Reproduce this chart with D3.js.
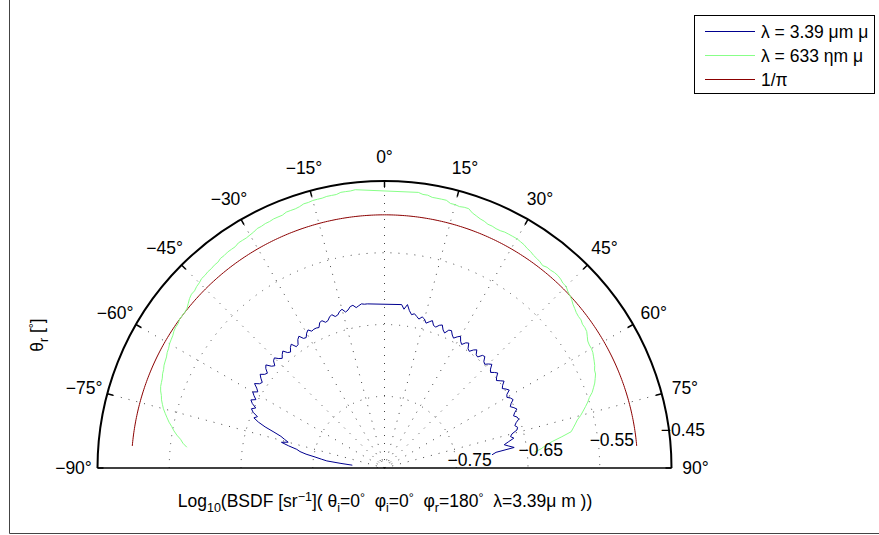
<!DOCTYPE html>
<html><head><meta charset="utf-8">
<script src="https://cdn.jsdelivr.net/npm/d3@7"></script>
<style>
html,body{margin:0;padding:0;background:#fff;}
svg text{font-family:"Liberation Sans",Arial,Helvetica,sans-serif;fill:#000;}
</style></head>
<body>
<svg id="chart" width="879" height="535"></svg>
<script>
// ---- data ----
const thetaDeg = d3.range(-85, 86, 1); // scattering angles θr (deg)

const blueLog = [
-0.805,-0.789,-0.769,-0.761,-0.752,-0.739,-0.730,-0.725,-0.713,-0.702,
-0.711,-0.705,-0.699,-0.688,-0.674,-0.663,-0.655,-0.659,-0.651,-0.647,
-0.652,-0.645,-0.641,-0.647,-0.642,-0.638,-0.644,-0.640,-0.634,-0.640,
-0.642,-0.637,-0.633,-0.638,-0.640,-0.634,-0.631,-0.638,-0.641,-0.635,
-0.633,-0.638,-0.641,-0.637,-0.634,-0.640,-0.642,-0.637,-0.634,-0.641,
-0.640,-0.634,-0.631,-0.637,-0.638,-0.633,-0.630,-0.634,-0.633,-0.633,
-0.634,-0.628,-0.627,-0.631,-0.630,-0.626,-0.624,-0.628,-0.627,-0.623,
-0.621,-0.626,-0.624,-0.620,-0.619,-0.623,-0.621,-0.619,-0.620,-0.620,
null,null,null,null,null,null,null,null,null,null,null,
-0.621,-0.627,-0.620,-0.628,-0.633,-0.631,-0.634,-0.637,-0.633,-0.635,
-0.640,-0.637,-0.634,-0.640,-0.641,-0.637,-0.635,-0.641,-0.644,-0.638,
-0.637,-0.642,-0.645,-0.641,-0.638,-0.644,-0.647,-0.642,-0.640,-0.647,
-0.649,-0.644,-0.641,-0.647,-0.648,-0.642,-0.641,-0.647,-0.649,-0.645,
-0.642,-0.648,-0.651,-0.647,-0.644,-0.649,-0.652,-0.648,-0.644,-0.649,
-0.652,-0.648,-0.645,-0.651,-0.653,-0.649,-0.647,-0.652,-0.655,-0.651,
-0.648,-0.653,-0.656,-0.652,-0.651,-0.656,-0.659,-0.656,-0.658,-0.666,
-0.669,-0.665,-0.673,-0.680,-0.674,-0.667,-0.693,-0.699,null,null
];

const greenLog = [
null,
-0.573,-0.567,-0.563,-0.557,-0.552,-0.548,-0.543,-0.539,-0.535,
-0.531,-0.528,-0.525,-0.523,-0.520,-0.518,-0.517,-0.516,-0.514,-0.513,
-0.511,-0.510,-0.509,-0.507,-0.506,-0.504,-0.503,-0.502,-0.500,-0.499,
-0.499,-0.497,-0.497,-0.497,-0.496,-0.493,-0.490,-0.488,-0.488,-0.486,
-0.485,-0.483,-0.483,-0.482,-0.482,-0.481,-0.481,-0.479,-0.479,-0.478,
-0.478,-0.478,-0.476,-0.476,-0.476,-0.475,-0.474,-0.472,-0.472,-0.471,
-0.471,-0.470,-0.470,-0.470,-0.468,-0.468,-0.468,-0.467,-0.465,-0.465,
-0.464,-0.464,-0.464,-0.463,-0.463,-0.463,-0.461,-0.461,-0.461,-0.460,
null,null,null,null,null,null,null,null,null,null,null,null,
-0.463,-0.465,-0.465,-0.467,-0.467,-0.467,-0.467,-0.470,-0.470,-0.471,
-0.470,-0.470,-0.474,-0.476,-0.478,-0.479,-0.481,-0.481,-0.482,-0.482,
-0.481,-0.481,-0.481,-0.481,-0.482,-0.483,-0.485,-0.486,-0.488,-0.489,
-0.490,-0.492,-0.490,-0.490,-0.489,-0.489,-0.490,-0.492,-0.492,-0.495,
-0.497,-0.499,-0.502,-0.504,-0.506,-0.507,-0.507,-0.509,-0.509,-0.510,
-0.513,-0.516,-0.517,-0.517,-0.518,-0.520,-0.522,-0.524,-0.527,-0.528,
-0.531,-0.534,-0.538,-0.542,-0.548,-0.552,-0.557,-0.562,-0.567,-0.573,
-0.577,-0.581,-0.585,-0.599,-0.613,-0.623,-0.630,-0.640,null
];

const lambertLog = Math.log10(1 / Math.PI); // 1/π reference
const lambertSpan = [-85, 85];

const angleTicks = d3.range(-90, 91, 15);
const ringValues = [-0.84, -0.75, -0.65, -0.55];
const ringLabels = [-0.75, -0.65, -0.55, -0.45];
const rDomain = [-0.85, -0.45];

const legendLabels = ["λ = 3.39 μm μ", "λ = 633 ηm μ", "1/π"];
const colors = ["#00008f", "#88ff88", "#8b0000"];

// ---- layout ----
const FS = 17.5, FSS = 12.5;
const svg = d3.select("#chart");
const cx = 384.5, cy = 468, R = 287;
const rScale = d3.scaleLinear().domain(rDomain).range([0, R]);
const rad = d => d * Math.PI / 180;
const g = svg.append("g").attr("transform", `translate(${cx},${cy})`);

// frame lines
svg.append("line").attr("x1", 9.5).attr("x2", 9.5).attr("y1", 0).attr("y2", 533.5)
  .attr("stroke", "#444").attr("stroke-width", 1);
svg.append("line").attr("x1", 9.5).attr("x2", 879).attr("y1", 533.5).attr("y2", 533.5)
  .attr("stroke", "#444").attr("stroke-width", 1);

const semi = r => `M${-r},0A${r},${r} 0 0 1 ${r},0`;

// dotted rings
g.selectAll("path.ring").data(ringValues).enter().append("path")
  .attr("class", "ring").attr("d", v => semi(rScale(v)))
  .attr("fill", "none").attr("stroke", "#444").attr("stroke-width", 1)
  .attr("stroke-dasharray", "1,7");

// dotted spokes
g.selectAll("line.spoke").data(angleTicks.filter(a => Math.abs(a) < 90)).enter().append("line")
  .attr("class", "spoke")
  .attr("x1", 0).attr("y1", 0)
  .attr("x2", a => R * Math.sin(rad(a))).attr("y2", a => -R * Math.cos(rad(a)))
  .attr("stroke", "#444").attr("stroke-width", 1).attr("stroke-dasharray", "1,7");

// outer circle and baseline
g.append("path").attr("d", semi(R)).attr("fill", "none").attr("stroke", "#000").attr("stroke-width", 2);
g.append("line").attr("x1", -R).attr("x2", R).attr("y1", 0).attr("y2", 0)
  .attr("stroke", "#000").attr("stroke-width", 1.5);

// angle ticks
g.selectAll("line.atick").data(angleTicks).enter().append("line")
  .attr("class", "atick")
  .attr("x1", a => R * Math.sin(rad(a))).attr("y1", a => -R * Math.cos(rad(a)))
  .attr("x2", a => (R - 6) * Math.sin(rad(a))).attr("y2", a => -(R - 6) * Math.cos(rad(a)))
  .attr("stroke", "#000").attr("stroke-width", 1.5);

// angle labels
const fmt = v => (v < 0 ? "\u2212" + Math.abs(v) : "" + v);
g.selectAll("text.alab").data(angleTicks).enter().append("text")
  .attr("class", "alab")
  .attr("x", a => 311 * Math.sin(rad(a))).attr("y", a => -311 * Math.cos(rad(a)))
  .attr("text-anchor", "middle").attr("dominant-baseline", "central")
  .attr("font-size", FS).text(a => fmt(a) + "°");

// data lines
const line = d3.lineRadial().angle(d => rad(d.t)).radius(d => rScale(d.v));
const mk = arr => thetaDeg.map((t, i) => ({ t, v: arr[i] })).filter(d => d.v !== null);
const redPts = d3.range(lambertSpan[0], lambertSpan[1] + 0.001, 0.5).map(t => ({ t, v: lambertLog }));

g.append("path").attr("d", line(redPts)).attr("fill", "none").attr("stroke", colors[2]).attr("stroke-width", 1);
g.append("path").attr("d", line(mk(greenLog))).attr("fill", "none").attr("stroke", colors[1]).attr("stroke-width", 1);
g.append("path").attr("d", line(mk(blueLog))).attr("fill", "none").attr("stroke", colors[0]).attr("stroke-width", 1);

// radial labels
const labA = rad(82);
g.selectAll("text.rlab").data(ringLabels).enter().append("text")
  .attr("class", "rlab")
  .attr("x", v => rScale(v) * Math.sin(labA) - 8)
  .attr("y", v => -rScale(v) * Math.cos(labA) + 2)
  .attr("dominant-baseline", "central").attr("font-size", FS)
  .text(v => "\u2212" + Math.abs(v).toFixed(2));

// x label
const xl = svg.append("text").attr("x", 385).attr("y", 507).attr("text-anchor", "middle").attr("font-size", FS);
const parts = [
  ["Log", 0], ["10", -1], ["(BSDF [sr", 0], ["\u22121", 1], ["]( θ", 0], ["i", -1], ["=0", 0], ["°", 2],
  ["  φ", 0], ["i", -1], ["=0", 0], ["°", 2], ["  φ", 0], ["r", -1], ["=180", 0], ["°", 2],
  ["  λ=3.39μ m ))", 0]
];
let prev = 0;
parts.forEach(([s, k]) => {
  const shift = k === -1 ? 5 : (k === 1 ? -6 : (k === 2 ? -5 : 0));
  const ts = xl.append("tspan").attr("dy", shift - prev).text(s).attr("xml:space", "preserve");
  if (k !== 0) ts.attr("font-size", FSS);
  prev = shift;
});

// y label
const yl = svg.append("text").attr("transform", "translate(43,335) rotate(-90)")
  .attr("text-anchor", "middle").attr("font-size", FS);
yl.append("tspan").text("θ");
yl.append("tspan").attr("dy", 5).attr("font-size", FSS).text("r");
yl.append("tspan").attr("dy", -5).text(" [");
yl.append("tspan").attr("dy", -5).attr("font-size", FSS).text("°");
yl.append("tspan").attr("dy", 5).text("]");

// legend
const lg = svg.append("g");
lg.append("rect").attr("x", 694.5).attr("y", 15.5).attr("width", 180).attr("height", 78)
  .attr("fill", "#fff").attr("stroke", "#000").attr("stroke-width", 1);
legendLabels.forEach((lab, i) => {
  const y = 31.5 + i * 24;
  lg.append("line").attr("x1", 705).attr("x2", 755).attr("y1", y).attr("y2", y)
    .attr("stroke", colors[i]).attr("stroke-width", 1);
  lg.append("text").attr("x", 761).attr("y", y).attr("dominant-baseline", "central")
    .attr("font-size", FS).text(lab);
});
</script>
</body></html>
